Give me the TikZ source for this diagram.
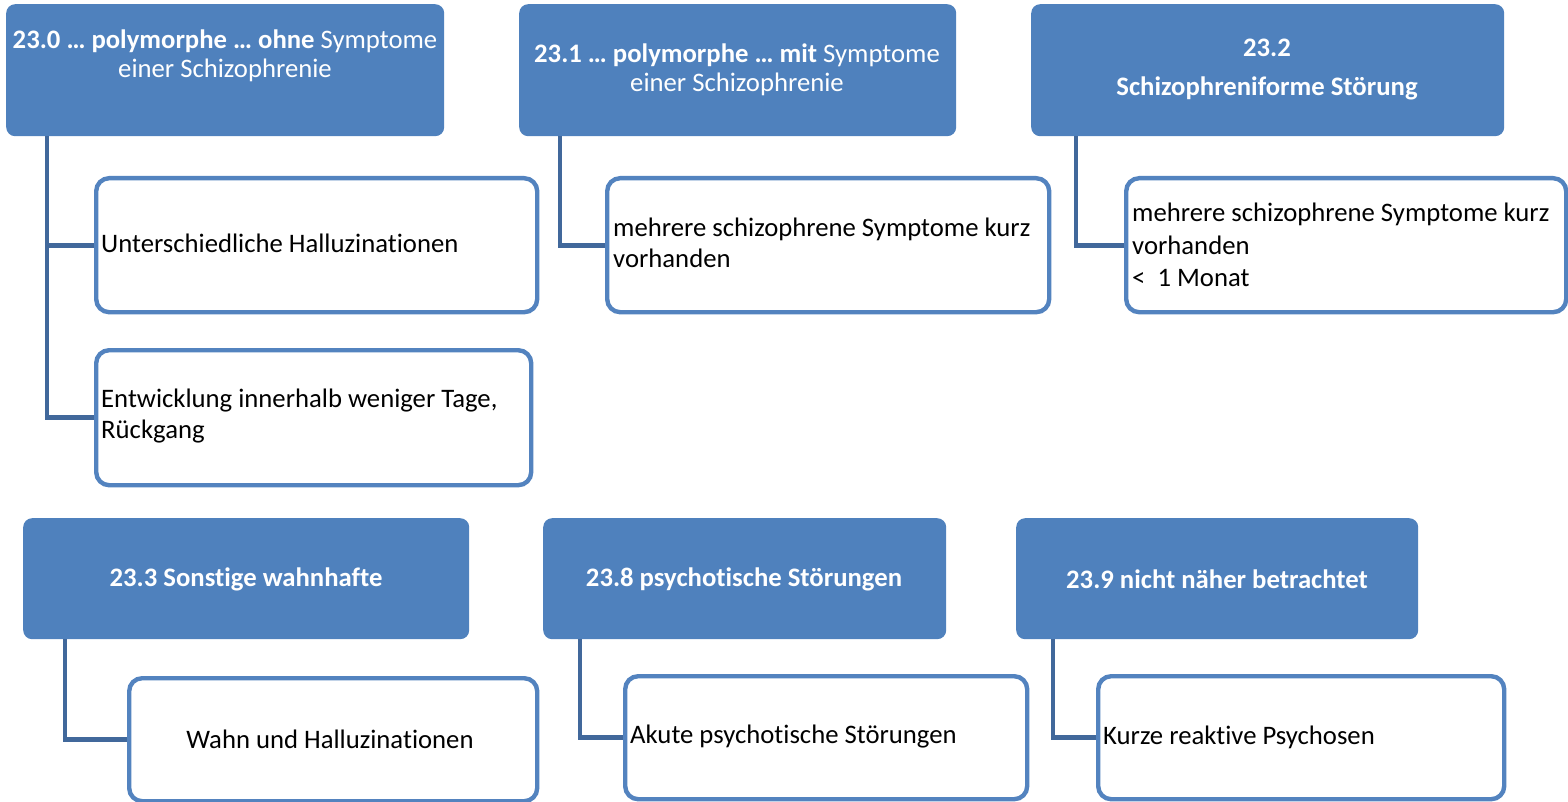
\documentclass[tikz,border=0pt]{standalone}
\usepackage{fontspec}
\setmainfont{Carlito}[Ligatures=NoCommon]
\definecolor{hb}{HTML}{4F81BD}
\definecolor{cb}{HTML}{5383BF}
\definecolor{ln}{HTML}{41689B}
\begin{document}
\begin{tikzpicture}[x=1pt,y=-1pt,
  head/.style={fill=hb, draw=none, rounded corners=9pt, anchor=north west, inner sep=0pt},
  child/.style={fill=white, draw=cb, line width=4.4pt, rounded corners=13pt, anchor=north west, inner sep=0pt},
  htext/.style={text=white, align=center, inner sep=0pt, font=\fontsize{26.7}{29.5}\selectfont},
  hbold/.style={htext, font=\bfseries\fontsize{26.7}{29.5}\selectfont},
  ctext/.style={text=black, align=left, inner sep=0pt, anchor=west, font=\fontsize{26.7}{30.5}\selectfont},
  conn/.style={draw=ln, line width=4.8pt}]
\useasboundingbox (0,0) rectangle (1568,802);

% top row heads
\node[head, minimum width=438pt, minimum height=132pt] (b0) at (6,4) {};
\node[head, minimum width=437pt, minimum height=132pt] (b1) at (519,4) {};
\node[head, minimum width=473pt, minimum height=132pt] (b2) at (1031,4) {};
% bottom row heads
\node[head, minimum width=446pt, minimum height=121pt] (b3) at (23,518) {};
\node[head, minimum width=403pt, minimum height=121pt] (b4) at (543,518) {};
\node[head, minimum width=402pt, minimum height=121pt] (b5) at (1016,518) {};

% child boxes
\node[child, minimum width=441pt, minimum height=134pt] (c0a) at (94,176) {};
\node[child, minimum width=435pt, minimum height=135pt] (c0b) at (94,348) {};
\node[child, minimum width=442pt, minimum height=134pt] (c1) at (605,176) {};
\node[child, minimum width=440pt, minimum height=134pt] (c2) at (1124,176) {};
\node[child, minimum width=408pt, minimum height=123pt] (c3) at (127,676) {};
\node[child, minimum width=402pt, minimum height=123pt] (c4) at (623,674) {};
\node[child, minimum width=406pt, minimum height=123pt] (c5) at (1096,674) {};

% connectors
\draw[conn] ([xshift=41pt]b0.south west) |- (c0a.west);
\draw[conn] ([xshift=41pt]b0.south west) |- (c0b.west);
\draw[conn] ([xshift=41pt]b1.south west) |- (c1.west);
\draw[conn] ([xshift=45pt]b2.south west) |- (c2.west);
\draw[conn] ([xshift=42pt]b3.south west) |- (c3.west);
\draw[conn] ([xshift=37pt]b4.south west) |- (c4.west);
\draw[conn] ([xshift=37pt]b5.south west) |- (c5.west);

% head texts
\node[htext] (t0) at (225,56) {\textbf{23.0 … polymorphe … ohne} Symptome\\einer Schizophrenie};
\node[htext] (t1) at (737,70) {\textbf{23.1 … polymorphe … mit} Symptome\\einer Schizophrenie};
\node[hbold, font=\bfseries\fontsize{26.7}{39}\selectfont] (t2) at (1267,70) {23.2\\Schizophreniforme Störung};
\node[hbold] (t3) at (246,579) {23.3 Sonstige wahnhafte};
\node[hbold] (t4) at (744,579) {23.8 psychotische Störungen};
\node[hbold] (t5) at (1217,579) {23.9 nicht näher betrachtet};

% child texts
\node[ctext] (s0a) at (101,243) {Unterschiedliche Halluzinationen};
\node[ctext] (s0b) at (101,416) {Entwicklung innerhalb weniger Tage,\\Rückgang};
\node[ctext] (s1) at (613,243) {mehrere schizophrene Symptome kurz\\vorhanden};
\node[ctext, font=\fontsize{26.7}{32.5}\selectfont] (s2) at (1132,245) {mehrere schizophrene Symptome kurz\\vorhanden\\<\ \ 1 Monat};
\node[ctext, anchor=center] (s3) at (330,739) {Wahn und Halluzinationen};
\node[ctext] (s4) at (630,737) {Akute psychotische Störungen};
\node[ctext] (s5) at (1103,737) {Kurze reaktive Psychosen};
\end{tikzpicture}
\end{document}
